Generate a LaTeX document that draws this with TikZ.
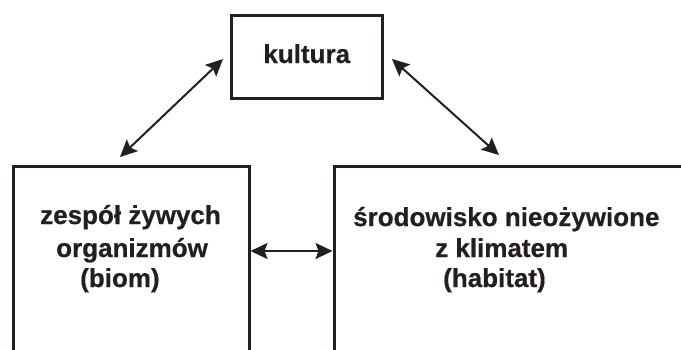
\documentclass[tikz,border=0pt]{standalone}
\usepackage{fontspec}
\setmainfont{Liberation Sans}[BoldFeatures={FakeBold=0.6}]
\usetikzlibrary{arrows.meta}
\definecolor{ink}{HTML}{231F20}
\begin{document}
\begin{tikzpicture}[x=1pt,y=-1pt,
  frame/.style={draw=ink,line width=3pt,rectangle,inner sep=0pt,outer sep=0pt},
  words/.style={text=ink,font=\bfseries\fontsize{26}{32}\selectfont,inner sep=0pt,anchor=base west},
  link/.style={draw=ink,line width=2pt,
    {Stealth[length=17pt,width=16pt,inset=3pt]}-{Stealth[length=17pt,width=16pt,inset=3pt]}}]
  \useasboundingbox (0,0) rectangle (681,349);
  \clip (0,0) rectangle (681,349);

  % top box
  \node[frame,minimum width=150.5pt,minimum height=83pt,
        text=ink,font=\bfseries\fontsize{26}{32}\selectfont,
        text height=19pt,text depth=6pt] (kultura) at (306.75,56.5) {kultura};

  % lower boxes, open past the lower (and right) edge
  \node[frame,minimum width=236pt,minimum height=260pt,anchor=north west] (biom) at (13,166) {};
  \node[frame,minimum width=380pt,minimum height=260pt,anchor=north west] (habitat) at (334,166) {};

  % left box text
  \node[words] (b1) at (40,224) {zespół żywych};
  \node[words] (b2) at (56,257) {organizmów};
  \node[words] (b3) at (80,287) {(biom)};

  % right box text
  \node[words] (h1) at (353,226) {środowisko nieożywione};
  \node[words] (h2) at (435,257) {z klimatem};
  \node[words] (h3) at (443,287) {(habitat)};

  % connector ends
  \coordinate (kl) at (223,59);
  \coordinate (bl) at (120,157);
  \coordinate (kr) at (392,59);
  \coordinate (hr) at (499,155);

  \draw[link] (bl) -- (kl);
  \draw[link] (kr) -- (hr);
  \draw[link,shorten <=1.5pt,shorten >=1.5pt]
    (biom.east |- 0,251) -- (habitat.west |- 0,251);
\end{tikzpicture}
\end{document}
